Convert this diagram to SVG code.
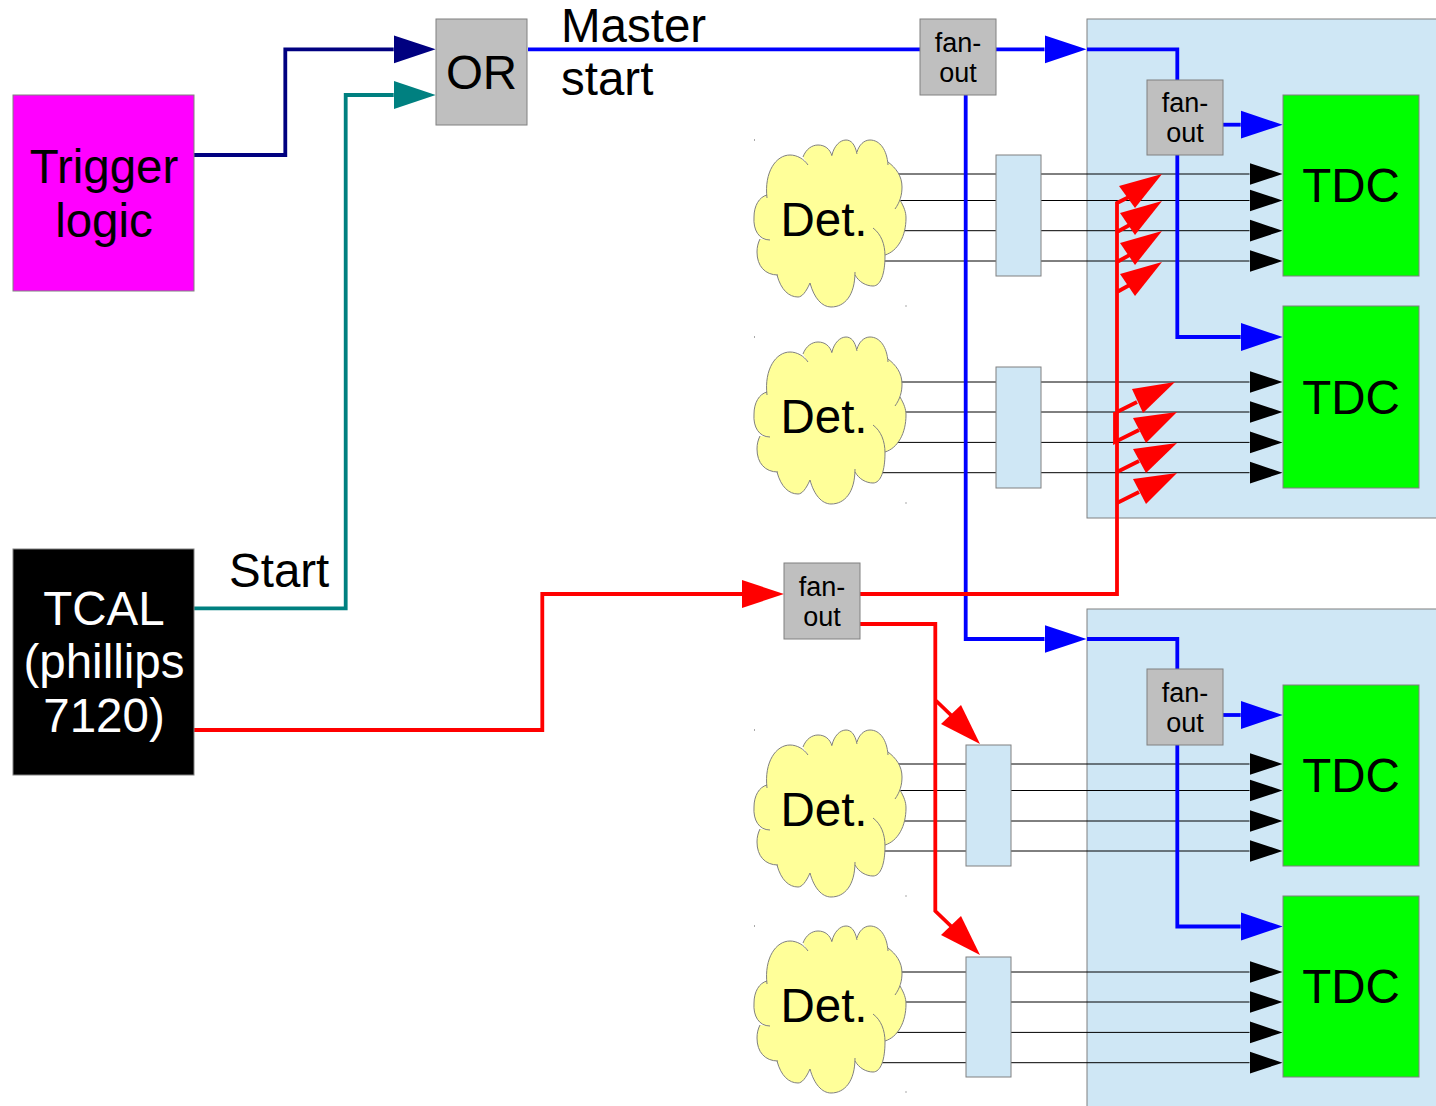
<svg xmlns="http://www.w3.org/2000/svg" width="1436" height="1106" viewBox="0 0 1436 1106">
<style>
text{font-family:"Liberation Sans",Arial,sans-serif;font-size:47.500px;fill:#000;text-anchor:middle}
.fo text{font-size:27px}
.panel{fill:#cfe7f5;stroke:#808080;stroke-width:1}
.gray{fill:#bfbfbf;stroke:#808080;stroke-width:1}
.tdc{fill:#00ff00;stroke:#808080;stroke-width:1}
.sig{fill:none;stroke:#000;stroke-width:1}
.w{fill:none;stroke-width:3.800;stroke-linejoin:miter}
.blue{stroke:#0000ff}.red{stroke:#ff0000}
.rh{fill:#ff0000}
.dot{fill:#555}
</style>
<defs>
<marker id="mb" markerUnits="userSpaceOnUse" markerWidth="34" markerHeight="24" refX="0" refY="12" orient="auto"><path d="M0 1L33 12L0 23Z" fill="#000"/></marker>
<marker id="mblue" markerUnits="userSpaceOnUse" markerWidth="43" markerHeight="30" refX="0" refY="15" orient="auto"><path d="M0 1L42 15L0 29Z" fill="#0000ff"/></marker>
<marker id="mnavy" markerUnits="userSpaceOnUse" markerWidth="43" markerHeight="30" refX="0" refY="15" orient="auto"><path d="M0 1L42 15L0 29Z" fill="#000080"/></marker>
<marker id="mteal" markerUnits="userSpaceOnUse" markerWidth="43" markerHeight="30" refX="0" refY="15" orient="auto"><path d="M0 1L42 15L0 29Z" fill="#008080"/></marker>
<marker id="mred" markerUnits="userSpaceOnUse" markerWidth="43" markerHeight="30" refX="0" refY="15" orient="auto"><path d="M0 1L42 15L0 29Z" fill="#ff0000"/></marker>
<g id="cloud">
<path fill="#ffff99" d="M767 198C764 172 776 155 790 155C797 155 804 159 808 165L803 157C806 149 812 145 818 145C825 145 830 149 832 156L832 155C834 146 840 140 846 140C851 140 855 144 857 154L857 152C859 145 864 140 870 140C880 140 887 150 888 165L888 162C896 168 902 176 902 187C902 195 900 202 895 209L900 200C904 207 906 212 906 218C906 236 898 251 885 255L885 256C885 273 881 286 873 286C866 286 859 282 855 275L855 272C855 295 845 307 831 307C822 307 814 298 810 283C806 292 802 297 798 297C789 297 781 290 777 275L778 275C765 275 757 266 757 252C757 247 758 243 760 239L770 240C759 240 753 230 754 217C754 206 759 197 767 195Z"/>
<path fill="none" stroke="#808080" stroke-width="1" d="M767 198C764 172 776 155 790 155C797 155 804 159 808 165M803 157C806 149 812 145 818 145C825 145 830 149 832 156M832 155C834 146 840 140 846 140C851 140 855 144 857 154M857 152C859 145 864 140 870 140C880 140 887 150 888 165M888 162C896 168 902 176 902 187C902 195 900 202 895 209M900 200C904 207 906 212 906 218C906 236 898 251 885 255M873 228C881 234 885 244 885 256C885 273 881 286 873 286C866 286 859 282 855 275M855 272C855 295 845 307 831 307C822 307 814 298 810 283M810 283C806 292 802 297 798 297C789 297 781 290 777 275M778 275C765 275 757 266 757 252C757 247 758 243 760 239M770 240C759 240 753 230 754 217C754 206 759 197 767 195"/>
<rect x="754" y="139.500" width="1" height="1" class="dot"/>
<rect x="905.500" y="305.500" width="1" height="1" class="dot"/>
</g>
</defs>
<rect width="1436" height="1106" fill="#fff"/>
<g id="panel-top"><rect class="panel" x="1087" y="19" width="360" height="499"/></g>
<g id="panel-bottom"><rect class="panel" x="1087" y="609" width="360" height="510"/></g>
<g id="connectors">
<path class="sig" d="M895 174H1249.500" marker-end="url(#mb)"/><path class="sig" d="M895 200.500H1249.500" marker-end="url(#mb)"/><path class="sig" d="M895 230.700H1249.500" marker-end="url(#mb)"/><path class="sig" d="M880 261H1249.500" marker-end="url(#mb)"/>
<path class="sig" d="M895 382H1249.500" marker-end="url(#mb)"/><path class="sig" d="M895 412H1249.500" marker-end="url(#mb)"/><path class="sig" d="M895 442.400H1249.500" marker-end="url(#mb)"/><path class="sig" d="M880 472.700H1249.500" marker-end="url(#mb)"/>
<path class="sig" d="M895 764H1249.500" marker-end="url(#mb)"/><path class="sig" d="M895 790.500H1249.500" marker-end="url(#mb)"/><path class="sig" d="M895 821H1249.500" marker-end="url(#mb)"/><path class="sig" d="M880 851H1249.500" marker-end="url(#mb)"/>
<path class="sig" d="M895 972H1249.500" marker-end="url(#mb)"/><path class="sig" d="M895 1002H1249.500" marker-end="url(#mb)"/><path class="sig" d="M895 1032.400H1249.500" marker-end="url(#mb)"/><path class="sig" d="M880 1062.700H1249.500" marker-end="url(#mb)"/>
<path class="w" stroke="#000080" d="M194 155H285.300V49.300H393.700" marker-end="url(#mnavy)"/>
<path class="w" stroke="#008080" d="M194 608.300H345.700V95H393.700" marker-end="url(#mteal)"/>
<path class="w blue" d="M528 49.300H1044.500" marker-end="url(#mblue)"/>
<path class="w blue" d="M965.700 95V639H1044.500" marker-end="url(#mblue)"/>
<path class="w blue" d="M1087 49.300H1177.300V80"/>
<path class="w blue" d="M1223 124.700H1240.700" marker-end="url(#mblue)"/>
<path class="w blue" d="M1177.300 155V337H1240.700" marker-end="url(#mblue)"/>
<path class="w blue" d="M1087 639H1177.300V669"/>
<path class="w blue" d="M1223 715H1240.700" marker-end="url(#mblue)"/>
<path class="w blue" d="M1177.300 745V926.500H1240.700" marker-end="url(#mblue)"/>
<path class="w red" d="M194 730H542.300V594H742" marker-end="url(#mred)"/>
<path class="w red" d="M860 594H1117V203L1135 194M1117 232L1135 222M1117 262L1135 252M1117 292L1135 282"/>
<path class="w red" d="M1117 412L1137 402M1115 412V442L1139 430M1117 472L1139 461M1117 503L1139 492"/>
<path class="w red" d="M860 624H935.300V911L955 930M935.300 700L955 719"/>
<polygon class="rh" points="1162,174 1119,186 1135,208"/>
<polygon class="rh" points="1162,201 1120,213 1135,235"/>
<polygon class="rh" points="1162,231 1120,243 1135,265"/>
<polygon class="rh" points="1162,262 1120,274 1135,296"/>
<polygon class="rh" points="1175,382 1132,389 1143,413"/>
<polygon class="rh" points="1177,412 1133,418 1146,443"/>
<polygon class="rh" points="1177,443 1133,449 1146,473"/>
<polygon class="rh" points="1177,473 1133,479 1146,504"/>
<polygon class="rh" points="980,744 961,705 941,724"/>
<polygon class="rh" points="980,955 961,916 941,935"/>
</g>
<g id="trigger"><rect x="13" y="95" width="181" height="196" fill="#ff00ff" stroke="#808080"/><text x="104" y="183">Trigger</text><text x="104" y="237">logic</text></g>
<g id="tcal"><rect x="13" y="549" width="181" height="226" fill="#000" stroke="#808080"/><text x="104" y="625" style="fill:#fff">TCAL</text><text x="104" y="678" style="fill:#fff">(phillips</text><text x="104" y="732" style="fill:#fff">7120)</text></g>
<g id="or"><rect class="gray" x="436" y="19" width="91" height="106"/><text x="481.500" y="89">OR</text></g>
<g id="label-master"><text x="561" y="42" style="text-anchor:start">Master</text><text x="561" y="95" style="text-anchor:start">start</text></g>
<g id="label-start"><text x="229" y="586.500" style="text-anchor:start">Start</text></g>
<g id="fan1" class="fo"><rect class="gray" x="920" y="19" width="76" height="76"/><text x="958" y="52">fan-</text><text x="958" y="82">out</text></g>
<g id="fan2" class="fo"><rect class="gray" x="1147" y="80" width="76" height="75"/><text x="1185" y="112">fan-</text><text x="1185" y="142">out</text></g>
<g id="fan3" class="fo"><rect class="gray" x="784" y="563" width="76" height="76"/><text x="822" y="596">fan-</text><text x="822" y="626">out</text></g>
<g id="fan4" class="fo"><rect class="gray" x="1147" y="669" width="76" height="76"/><text x="1185" y="702">fan-</text><text x="1185" y="732">out</text></g>
<g id="tdc1"><rect class="tdc" x="1283" y="95" width="136" height="181"/><text x="1351" y="202">TDC</text></g>
<g id="tdc2"><rect class="tdc" x="1283" y="306" width="136" height="182"/><text x="1351" y="414">TDC</text></g>
<g id="tdc3"><rect class="tdc" x="1283" y="685" width="136" height="181"/><text x="1351" y="792">TDC</text></g>
<g id="tdc4"><rect class="tdc" x="1283" y="896" width="136" height="181"/><text x="1351" y="1003">TDC</text></g>
<g id="box1"><rect class="panel" x="996" y="155" width="45" height="121"/></g>
<g id="box2"><rect class="panel" x="996" y="367" width="45" height="121"/></g>
<g id="box3"><rect class="panel" x="966" y="745" width="45" height="121"/></g>
<g id="box4"><rect class="panel" x="966" y="957" width="45" height="120"/></g>
<g id="det1"><use href="#cloud"/><text x="824" y="236">Det.</text></g>
<g id="det2"><use href="#cloud" y="197"/><text x="824" y="433">Det.</text></g>
<g id="det3"><use href="#cloud" y="590"/><text x="824" y="826">Det.</text></g>
<g id="det4"><use href="#cloud" y="786"/><text x="824" y="1022">Det.</text></g>
</svg>
